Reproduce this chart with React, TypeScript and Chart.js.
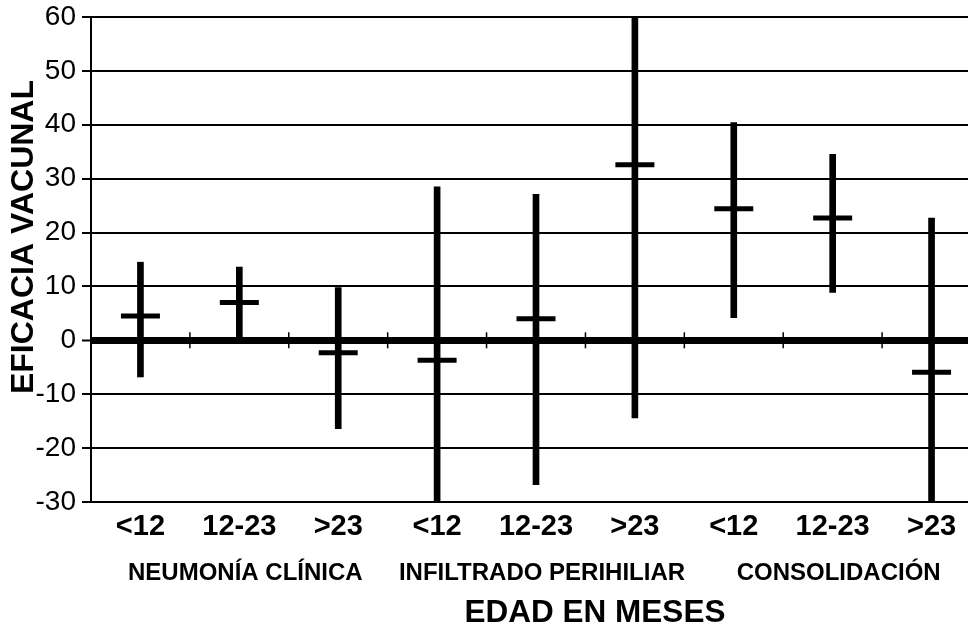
import React, { useEffect, useRef } from 'react';
import { Chart, registerables } from 'chart.js';

Chart.register(...registerables);

// ---- data ----
const categories = ['<12', '12-23', '>23', '<12', '12-23', '>23', '<12', '12-23', '>23'];
const groupLabels = ['NEUMONÍA CLÍNICA', 'INFILTRADO PERIHILIAR', 'CONSOLIDACIÓN'];
const groupCenterIndex = [1, 4, 7];
const estimates = [4.5, 7.0, -2.3, -3.7, 4.0, 32.6, 24.4, 22.7, -5.9];
const lowerCI = [-6.8, 0.5, -16.4, -30, -26.8, -14.4, 4.2, 8.9, -30];
const upperCI = [14.5, 13.6, 9.8, 28.5, 27.1, 60, 40.4, 34.5, 22.7];
const yMin = -30;
const yMax = 60;
const yStep = 10;
const yTitle = 'EFICACIA VACUNAL';
const xTitle = 'EDAD EN MESES';

const FONT = '"Liberation Sans", Arial, Helvetica, sans-serif';

const decorPlugin = {
  id: 'decor',
  afterDraw(chart: any) {
    const { ctx, scales } = chart;
    const x = scales.x;
    const y = scales.y;
    const y0 = y.getPixelForValue(0);
    ctx.save();
    ctx.strokeStyle = '#000';
    ctx.lineWidth = 1.5;
    for (let i = 0; i < categories.length - 1; i++) {
      const xb = (x.getPixelForValue(i) + x.getPixelForValue(i + 1)) / 2;
      ctx.beginPath();
      ctx.moveTo(xb, y0 - 8);
      ctx.lineTo(xb, y0 + 8);
      ctx.stroke();
    }
    ctx.fillStyle = '#000';
    ctx.textAlign = 'center';
    ctx.textBaseline = 'middle';
    ctx.font = `bold 24px ${FONT}`;
    groupLabels.forEach((g, k) => {
      ctx.fillText(g, x.getPixelForValue(groupCenterIndex[k]) + 6, 573);
    });
    ctx.font = `bold 31.5px ${FONT}`;
    ctx.fillText(xTitle, 595, 613);
    ctx.translate(24, 237);
    ctx.rotate(-Math.PI / 2);
    ctx.font = `bold 32px ${FONT}`;
    ctx.fillText(yTitle, 0, 0);
    ctx.restore();
  },
};

export default function App() {
  const ref = useRef<HTMLCanvasElement | null>(null);

  useEffect(() => {
    if (!ref.current) return;
    const chart = new Chart(ref.current, {
      type: 'bar',
      data: {
        labels: categories,
        datasets: [
          {
            type: 'bar',
            data: lowerCI.map((l, i) => [l, upperCI[i]]) as any,
            backgroundColor: '#000',
            borderWidth: 0,
            barThickness: 6,
            grouped: false,
            order: 2,
          },
          {
            type: 'line',
            data: estimates,
            showLine: false,
            pointStyle: 'line',
            pointRadius: 19.5,
            pointHoverRadius: 19.5,
            borderColor: '#000',
            backgroundColor: '#000',
            pointBorderWidth: 5,
            borderWidth: 5,
            order: 1,
          } as any,
        ],
      },
      options: {
        animation: false,
        responsive: false,
        devicePixelRatio: 1,
        layout: { autoPadding: false, padding: { top: 17, right: 3, bottom: 0, left: 0 } },
        plugins: {
          legend: { display: false },
          tooltip: { enabled: false },
        },
        scales: {
          x: {
            type: 'category',
            grid: { display: false, drawTicks: false, tickLength: 0 },
            border: { display: false },
            ticks: {
              color: '#000',
              padding: 8,
              font: { family: FONT, size: 29, weight: 'bold' },
              maxRotation: 0,
              autoSkip: false,
            },
            afterFit(scale: any) {
              scale.height = 123;
              scale.paddingLeft = 0;
              scale.paddingRight = 0;
            },
          },
          y: {
            min: yMin,
            max: yMax,
            grid: {
              color: '#000',
              lineWidth: (c: any) => (c.tick && c.tick.value === 0 ? 7 : 2),
              tickWidth: 2,
              tickLength: 9,
              drawTicks: true,
            },
            border: { display: true, color: '#000', width: 2 },
            ticks: {
              stepSize: yStep,
              color: '#000',
              padding: 6,
              font: { family: FONT, size: 28 },
            },
            afterFit(scale: any) {
              scale.width = 91;
              scale.paddingTop = 0;
              scale.paddingBottom = 0;
            },
          },
        },
      },
      plugins: [decorPlugin],
    });
    return () => chart.destroy();
  }, []);

  return (
    <div
      style={{
        position: 'fixed',
        left: 0,
        top: 0,
        width: 968,
        height: 625,
        overflow: 'hidden',
        background: '#fff',
      }}
    >
      <canvas ref={ref} width={984} height={625} style={{ display: 'block' }} />
    </div>
  );
}
